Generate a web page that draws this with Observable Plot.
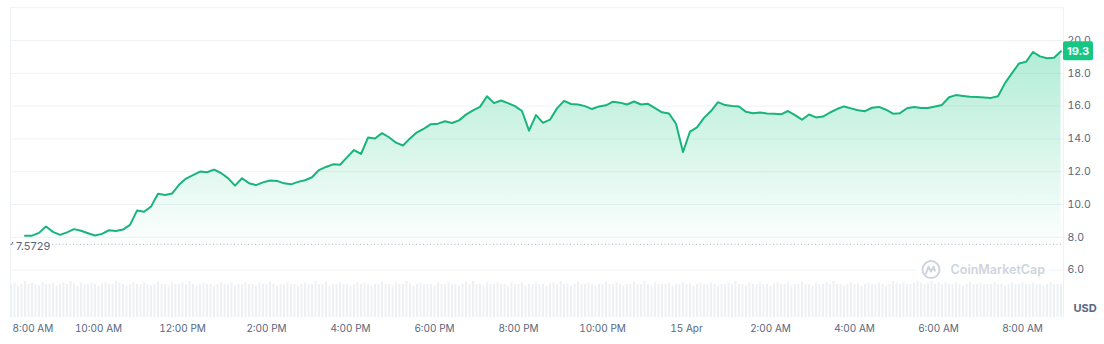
<!DOCTYPE html>
<html><head><meta charset="utf-8">
<script src="https://cdn.jsdelivr.net/npm/d3@7"></script>
<script src="https://cdn.jsdelivr.net/npm/@observablehq/plot@0.6"></script>
<style>
body{margin:0;background:#fff;font-family:Inter,"Noto Sans",sans-serif}
#chart svg{display:block}
</style>
</head><body><div id="chart"></div>
<script>
// ---- data ----
const priceStart = Date.UTC(2024, 3, 14, 8, 15);
const priceStepMinutes = 10;
const prices = [
  8.10, 8.10, 8.27, 8.66, 8.33, 8.15, 8.30, 8.50, 8.40, 8.25,
  8.11, 8.21, 8.43, 8.39, 8.47, 8.76, 9.63, 9.56, 9.87, 10.65,
  10.58, 10.67, 11.20, 11.58, 11.79, 12.01, 11.97, 12.13, 11.92, 11.61,
  11.15, 11.60, 11.30, 11.18, 11.35, 11.46, 11.44, 11.29, 11.23, 11.38,
  11.48, 11.66, 12.10, 12.29, 12.45, 12.42, 12.87, 13.32, 13.08, 14.08,
  14.02, 14.35, 14.10, 13.77, 13.60, 14.03, 14.40, 14.63, 14.90, 14.93,
  15.08, 14.97, 15.13, 15.48, 15.74, 15.95, 16.60, 16.18, 16.34, 16.18,
  16.00, 15.70, 14.50, 15.45, 14.98, 15.17, 15.86, 16.32, 16.13, 16.10,
  16.00, 15.82, 15.98, 16.05, 16.27, 16.21, 16.10, 16.28, 16.10, 16.14,
  15.88, 15.62, 15.55, 14.92, 13.20, 14.45, 14.70, 15.28, 15.70, 16.24,
  16.06, 16.00, 15.98, 15.65, 15.57, 15.61, 15.55, 15.53, 15.50, 15.70,
  15.45, 15.17, 15.49, 15.31, 15.36, 15.61, 15.82, 15.98, 15.86, 15.75,
  15.69, 15.90, 15.95, 15.78, 15.54, 15.57, 15.87, 15.94, 15.88, 15.88,
  15.97, 16.07, 16.54, 16.67, 16.62, 16.57, 16.56, 16.53, 16.50, 16.60,
  17.40, 18.01, 18.60, 18.70, 19.30, 19.03, 18.92, 18.95, 19.34
];
const volumeStart = Date.UTC(2024, 3, 14, 7, 55);
const volumeStepMinutes = 5;
const volumes = [
  2.2,2.3,2.1,2.2,2.4,2.2,2.3,2.2,2.1,2.3, 2.2,2.2,2.3,2.1,2.2,2.3,2.2,2.4,2.2,2.1,
  2.3,2.2,2.2,2.3,2.2,2.1,2.2,2.3,2.2,2.2, 2.4,2.3,2.2,2.1,2.2,2.3,2.2,2.2,2.3,2.2,
  2.1,2.2,2.3,2.2,2.2,2.1,2.3,2.2,2.2,2.3, 2.2,2.4,2.2,2.1,2.2,2.3,2.2,2.2,2.1,2.2,
  2.3,2.2,2.2,2.3,2.1,2.2,2.2,2.3,2.2,2.2, 2.1,2.3,2.2,2.2,2.3,2.2,2.1,2.2,2.2,2.3,
  2.2,2.2,2.1,2.2,2.3,2.2,2.2,2.4,2.2,2.2, 2.3,2.1,2.2,2.2,2.3,2.2,2.2,2.1,2.2,2.3,
  2.2,2.3,2.2,2.1,2.2,2.2,2.3,2.2,2.2,2.1, 2.3,2.2,2.2,2.4,2.2,2.1,2.2,2.3,2.2,2.2,
  2.2,2.1,2.3,2.2,2.2,2.3,2.2,2.2,2.1,2.2, 2.3,2.2,2.4,2.2,2.2,2.1,2.3,2.2,2.2,2.3,
  2.2,2.2,2.1,2.3,2.2,2.2,2.3,2.1,2.2,2.2, 2.3,2.2,2.2,2.1,2.2,2.3,2.2,2.4,2.2,2.2,
  2.1,2.2,2.3,2.2,2.2,2.3,2.2,2.1,2.2,2.2, 2.3,2.2,2.2,2.3,2.2,2.1,2.2,2.2,2.3,2.2,
  2.2,2.4,2.2,2.1,2.3,2.2,2.2,2.2,2.3,2.1, 2.2,2.2,2.3,2.2,2.2,2.1,2.2,2.3,2.2,2.2,
  2.3,2.2,2.1,2.2,2.2,2.3,2.2,2.4,2.2,2.2, 2.1,2.3,2.2,2.2,2.3,2.2,2.2,2.1,2.2,2.3,
  2.2,2.2,2.3,2.1,2.2,2.2,2.3,2.2,2.2,2.1, 2.3,2.2,2.2,2.3,2.2,2.4,2.2,2.2,2.1,2.2,
  2.3,2.2,2.2,2.1,2.2,2.3,2.2,2.2,2.3,2.2, 2.1,2.2,2.4,2.3,2.2,2.3,2.2,2.2,2.3,2.4,
  2.3,2.2,2.3,2.4,2.2,2.3,2.2,2.3,2.2,2.2, 2.3,2.2,2.1,2.2,2.3,2.2,2.2,2.3,2.2,2.2,
  2.2,2.3,2.2,2.2,2.1,2.2,2.3,2.2,2.2,2.3, 2.2,2.2,2.3,2.2,2.2,2.1,2.2,2.3,2.2,2.2,
  2.2
];
const openPrice = 7.5729;
const lastPriceLabel = "19.3";
const currencyLabel = "USD";
const watermarkText = "CoinMarketCap";
const yTickValues = [6, 8, 10, 12, 14, 16, 18, 20];
const gridValues = [6, 8, 10, 12, 14, 16, 18, 20, 22];
const xTickTimes = d3.utcHour.every(2).range(new Date(Date.UTC(2024, 3, 14, 8)), new Date(Date.UTC(2024, 3, 15, 8, 1)));

// ---- derived tables ----
const priceData = prices.map((v, i) => ({t: new Date(priceStart + i * priceStepMinutes * 60000), v}));
const volumeData = volumes.map((v, i) => ({t: new Date(volumeStart + i * volumeStepMinutes * 60000), v}));

const green = "#16c784";
const lineGreen = "#19b47e";
const textGray = "#58667e";
const fmtTime = d3.utcFormat("%-I:%M %p");
const fmtDay = d3.utcFormat("%-d %b");
const tickFormat = d => (d.getUTCHours() === 0 ? fmtDay(d) : fmtTime(d));

const yDomain = [3.11, 22.012];
const volBase = yDomain[0];
const volSpan = 2.2;
const volMax = d3.max(volumes);

const NS = "http://www.w3.org/2000/svg";
function el(name, attrs) {
  const e = document.createElementNS(NS, name);
  for (const k in attrs) e.setAttribute(k, attrs[k]);
  return e;
}

function gradientDefs() {
  const defs = el("defs", {});
  const g = el("linearGradient", {id: "cmcFill", x1: 0, y1: 0, x2: 0, y2: 1});
  g.appendChild(el("stop", {offset: "0%", "stop-color": green, "stop-opacity": 0.33}));
  g.appendChild(el("stop", {offset: "100%", "stop-color": green, "stop-opacity": 0.01}));
  defs.appendChild(g);
  return defs;
}

function openLabel(index, scales, values, dims) {
  const g = el("g", {"text-anchor": "start"});
  const y = scales.y(openPrice);
  g.appendChild(el("path", {d: `M${dims.marginLeft + 3},${y - 2} l-1.5,3`, stroke: textGray, "stroke-width": 1, fill: "none"}));
  const t = el("text", {x: dims.marginLeft + 6, y: y + 2, dy: "0.36em", "text-anchor": "start",
    fill: textGray, stroke: "#fff", "stroke-width": 4, "paint-order": "stroke",
    "font-size": 11, "font-family": "Inter, sans-serif"});
  t.textContent = openPrice.toFixed(4);
  g.appendChild(t);
  return g;
}

function badge(index, scales, values, dims) {
  const last = prices[prices.length - 1];
  const x0 = dims.width - dims.marginRight;
  const y = scales.y(last);
  const g = el("g", {});
  g.appendChild(el("rect", {x: x0, y: y - 9.5, width: 30, height: 19, rx: 2, fill: green}));
  const t = el("text", {x: x0 + 15, y, dy: "0.36em", "text-anchor": "middle", fill: "#fff",
    "font-size": 11, "font-weight": 700, "font-family": "Inter, sans-serif"});
  t.textContent = lastPriceLabel;
  g.appendChild(t);
  return g;
}

function usdLabel(index, scales, values, dims) {
  const t = el("text", {x: dims.width - dims.marginRight + 22, y: dims.height - dims.marginBottom - 5,
    "text-anchor": "middle", fill: textGray, "font-size": 11, "font-weight": 700, "font-family": "Inter, sans-serif"});
  t.textContent = currencyLabel;
  return t;
}

function watermark(index, scales, values, dims) {
  const xr = dims.width - dims.marginRight - 18;
  const y = scales.y(6);
  const g = el("g", {});
  g.appendChild(el("rect", {x: xr - 128, y: y - 11, width: 132, height: 22, fill: "#fff"}));
  const cx = xr - 114;
  g.appendChild(el("circle", {cx, cy: y, r: 8.5, fill: "none", stroke: "#cfd4dc", "stroke-width": 2}));
  g.appendChild(el("path", {d: `M${cx - 5},${y + 4} L${cx - 2.5},${y - 3} L${cx},${y + 2} L${cx + 2.5},${y - 3} L${cx + 4},${y + 1}`,
    fill: "none", stroke: "#cfd4dc", "stroke-width": 2, "stroke-linejoin": "round", "stroke-linecap": "round"}));
  const t = el("text", {x: xr, y, dy: "0.36em", "text-anchor": "end", fill: "#cfd4dc",
    "font-size": 12.5, "font-weight": 600, "font-family": "Inter, sans-serif"});
  t.textContent = watermarkText;
  g.appendChild(t);
  return g;
}

const chart = Plot.plot({
  width: 1104,
  height: 344,
  marginLeft: 10,
  marginRight: 41,
  marginTop: 7,
  marginBottom: 27,
  style: {fontFamily: "Inter, sans-serif", fontSize: "10px", color: textGray, background: "#fff", overflow: "visible"},
  x: {type: "utc", domain: [new Date(Date.UTC(2024, 3, 14, 7, 54, 17)), new Date(Date.UTC(2024, 3, 15, 8, 58, 34))]},
  y: {domain: yDomain},
  marks: [
    gradientDefs,
    Plot.ruleX(volumeData, {x: "t", y1: () => volBase, y2: d => volBase + d.v / volMax * volSpan, stroke: "#eef1f4", strokeWidth: 2}),
    Plot.gridY(gridValues, {stroke: "#eff2f5", strokeOpacity: 1}),
    Plot.frame({stroke: "#eff2f5", anchor: "left"}),
    Plot.frame({stroke: "#eff2f5", anchor: "right"}),
    Plot.areaY(priceData, {x: "t", y1: () => openPrice, y2: "v", fill: "url(#cmcFill)"}),
    Plot.ruleY([openPrice], {stroke: "#a6b0c3", strokeDasharray: "1,2.5", strokeWidth: 1}),
    openLabel,
    watermark,
    Plot.lineY(priceData, {x: "t", y: "v", stroke: lineGreen, strokeWidth: 2, curve: "linear"}),
    Plot.axisY(yTickValues, {anchor: "right", tickSize: 0, tickPadding: 4, tickFormat: d => d.toFixed(1), fill: textGray, fontSize: 10.5, label: null}),
    Plot.axisX(xTickTimes.slice(0, 1), {anchor: "bottom", tickSize: 0, tickPadding: 7, textAnchor: "start", dx: -2, tickFormat, fill: textGray, label: null}),
    Plot.axisX(xTickTimes.slice(1), {anchor: "bottom", tickSize: 0, tickPadding: 7, tickFormat, fill: textGray, label: null}),
    usdLabel,
    badge
  ]
});
document.getElementById("chart").appendChild(chart);
</script>
</body></html>
